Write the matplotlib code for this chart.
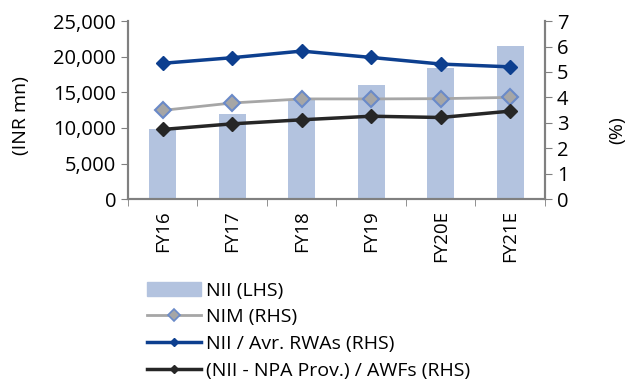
import numpy as np
import matplotlib.pyplot as plt
from matplotlib.lines import Line2D
from matplotlib.patches import Patch

plt.rcParams['font.family'] = ['Open Sans', 'DejaVu Sans']

years = ['FY16', 'FY17', 'FY18', 'FY19', 'FY20E', 'FY21E']
nii = [9800, 11950, 14100, 16000, 18450, 21550]
nim = [3.49, 3.78, 3.94, 3.94, 3.95, 4.00]
nii_rwa = [5.34, 5.56, 5.82, 5.57, 5.31, 5.20]
nii_awf = [2.74, 2.96, 3.12, 3.26, 3.21, 3.46]

bar_col = '#B3C3DF'
blue = '#0D3F8F'
grey = '#A6A6A6'
black = '#262626'
axis_col = '#808080'

fig = plt.figure(figsize=(6.33, 3.83), dpi=100)
ax = fig.add_axes([0.202, 0.48, 0.659, 0.465])
ax2 = ax.twinx()

x = np.arange(len(years))
ax.bar(x, nii, width=0.39, color=bar_col, zorder=1)
ax.set_ylim(0, 25000)
ax.set_xlim(-0.5, len(years) - 0.5)
ax.set_yticks(np.arange(0, 25001, 5000))
ax.set_yticklabels([f'{v:,}' for v in range(0, 25001, 5000)])
ax.set_xticks(x)
ax.set_xticklabels(years, rotation=90)
ax.set_xticks(np.arange(-0.5, len(years)), minor=True)
ax.tick_params(axis='x', which='major', length=0, pad=8, labelsize=13.5)
ax.tick_params(axis='x', which='minor', length=5, color=axis_col)
ax.tick_params(axis='y', length=5, color=axis_col, labelsize=14.5)
ax.set_ylabel('(INR mn)', fontsize=14)
ax.yaxis.set_label_coords(-0.235, 0.47)

ax2.plot(x, nim, color=grey, lw=2, marker='D', ms=8, mfc=grey, mec='#6A8AC8', mew=1.5, zorder=3)
ax2.plot(x, nii_rwa, color=blue, lw=2.5, marker='D', ms=7, mfc=blue, mec=blue, zorder=3)
ax2.plot(x, nii_awf, color=black, lw=2.5, marker='D', ms=7, mfc=black, mec=black, zorder=3)
ax2.set_ylim(0, 7)
ax2.set_yticks(range(0, 8))
ax2.tick_params(axis='y', length=5, color=axis_col, labelsize=14.5)
ax2.set_ylabel('(%)', fontsize=14)
ax2.yaxis.set_label_coords(1.152, 0.39)

for a in (ax, ax2):
    a.spines['top'].set_visible(False)
    for s in ('left', 'right', 'bottom'):
        a.spines[s].set_color(axis_col)
        a.spines[s].set_linewidth(1.5)

handles = [
    Patch(color=bar_col),
    Line2D([], [], color=grey, lw=2, marker='D', ms=6, mfc=grey, mec='#6A8AC8', mew=1.2),
    Line2D([], [], color=blue, lw=2.5, marker='D', ms=4, mfc=blue),
    Line2D([], [], color=black, lw=2.5, marker='D', ms=4, mfc=black),
]
labels = ['NII (LHS)', 'NIM (RHS)', 'NII / Avr. RWAs (RHS)', '(NII - NPA Prov.) / AWFs (RHS)']
fig.legend(handles, labels, loc='upper left', bbox_to_anchor=(0.232, 0.265),
           frameon=False, fontsize=14, handlelength=2.8, handletextpad=0.25,
           labelspacing=0.45, borderpad=0, borderaxespad=0)

fig.savefig('out.png', dpi=100)
